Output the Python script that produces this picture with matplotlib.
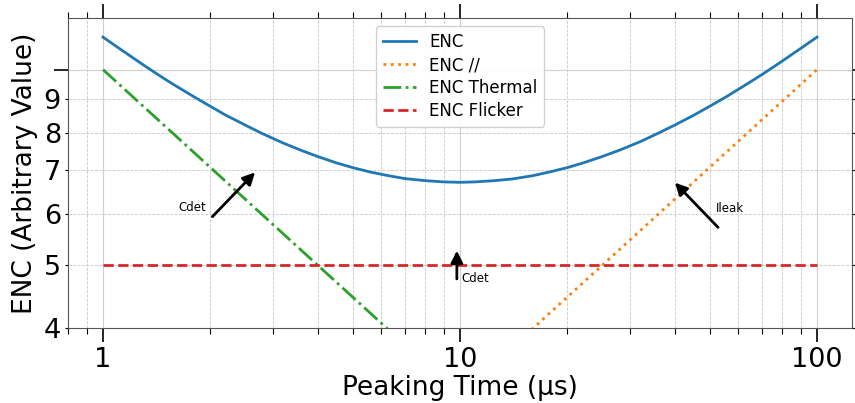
import matplotlib
matplotlib.use('Agg')
import matplotlib.pyplot as plt
import matplotlib.ticker as mticker

# peaking time (us) and noise contributions
t_enc = [1, 1.1, 1.2, 1.3, 1.4, 1.5, 1.6, 1.8, 2, 2.2, 2.5, 2.8, 3.2, 3.6, 4,
         4.5, 5, 5.6, 6.3, 7, 8, 9, 10, 11, 12.5, 14, 16, 18, 20, 22, 25, 28,
         32, 36, 40, 45, 50, 56, 63, 70, 80, 90, 100]
enc = [11.22, 10.82, 10.47, 10.16, 9.89, 9.65, 9.44, 9.08, 8.78, 8.52, 8.22,
       7.97, 7.71, 7.51, 7.35, 7.19, 7.07, 6.96, 6.87, 6.80, 6.75, 6.72, 6.71,
       6.72, 6.75, 6.79, 6.87, 6.97, 7.07, 7.18, 7.35, 7.52, 7.75, 7.99, 8.22,
       8.50, 8.78, 9.10, 9.47, 9.82, 10.31, 10.78, 11.22]
t_lines = [1, 100]
enc_parallel = [1, 10]
enc_thermal = [10, 1]
enc_flicker = [5, 5]

fig, ax = plt.subplots(figsize=(8.55, 4.03), dpi=100)
fig.subplots_adjust(left=0.08, right=0.996, top=0.955, bottom=0.185)

ax.plot(t_enc, enc, color='tab:blue', lw=2, label='ENC')
ax.plot(t_lines, enc_parallel, color='tab:orange', lw=2, ls=':', label='ENC //')
ax.plot(t_lines, enc_thermal, color='tab:green', lw=2, ls='-.', label='ENC Thermal')
ax.plot(t_lines, enc_flicker, color='tab:red', lw=2, ls='--', label='ENC Flicker')

ax.set_xscale('log')
ax.set_yscale('log')
ax.set_xlim(0.8, 125)
ax.set_ylim(4, 12)

ax.xaxis.set_major_formatter(mticker.FuncFormatter(lambda v, p: '%g' % v))
ax.yaxis.set_major_locator(mticker.FixedLocator([10]))
ax.yaxis.set_major_formatter(mticker.NullFormatter())
ax.yaxis.set_minor_locator(mticker.FixedLocator([4, 5, 6, 7, 8, 9]))
ax.yaxis.set_minor_formatter(mticker.FuncFormatter(lambda v, p: '%g' % v))

ax.tick_params(which='both', direction='out', top=True, right=True, labelsize=19.5)
ax.tick_params(which='major', length=10, width=1.2)
ax.tick_params(which='minor', length=4, width=0.8)
ax.tick_params(axis='y', which='minor', length=2)

ax.grid(which='major', color='#d0d0d0', lw=0.8, ls='-')
ax.grid(which='minor', color='#c8c8c8', lw=0.6, ls='--')
for sp in ax.spines.values():
    sp.set_color('#555555')

ax.set_xlabel('Peaking Time (μs)', fontsize=19, labelpad=1)
ax.set_ylabel('ENC (Arbitrary Value)', fontsize=19, labelpad=4)

arrow = dict(arrowstyle='-|>', color='black', lw=2, mutation_scale=18)
ax.annotate('', xy=(2.7, 7.0), xytext=(2.0, 5.9), arrowprops=arrow)
ax.text(1.95, 6.0, 'Cdet', fontsize=8.5, ha='right', va='bottom')
ax.annotate('', xy=(9.8, 5.32), xytext=(9.8, 4.72), arrowprops=arrow)
ax.text(10.1, 4.78, 'Cdet', fontsize=8.5, ha='left', va='center')
ax.annotate('', xy=(39.5, 6.75), xytext=(53.5, 5.68), arrowprops=arrow)
ax.text(52, 6.12, 'Ileak', fontsize=8.5, ha='left', va='center')

ax.legend(loc='upper center', fontsize=12, framealpha=0.9, labelspacing=0.3)

fig.savefig('out.png', dpi=100)
